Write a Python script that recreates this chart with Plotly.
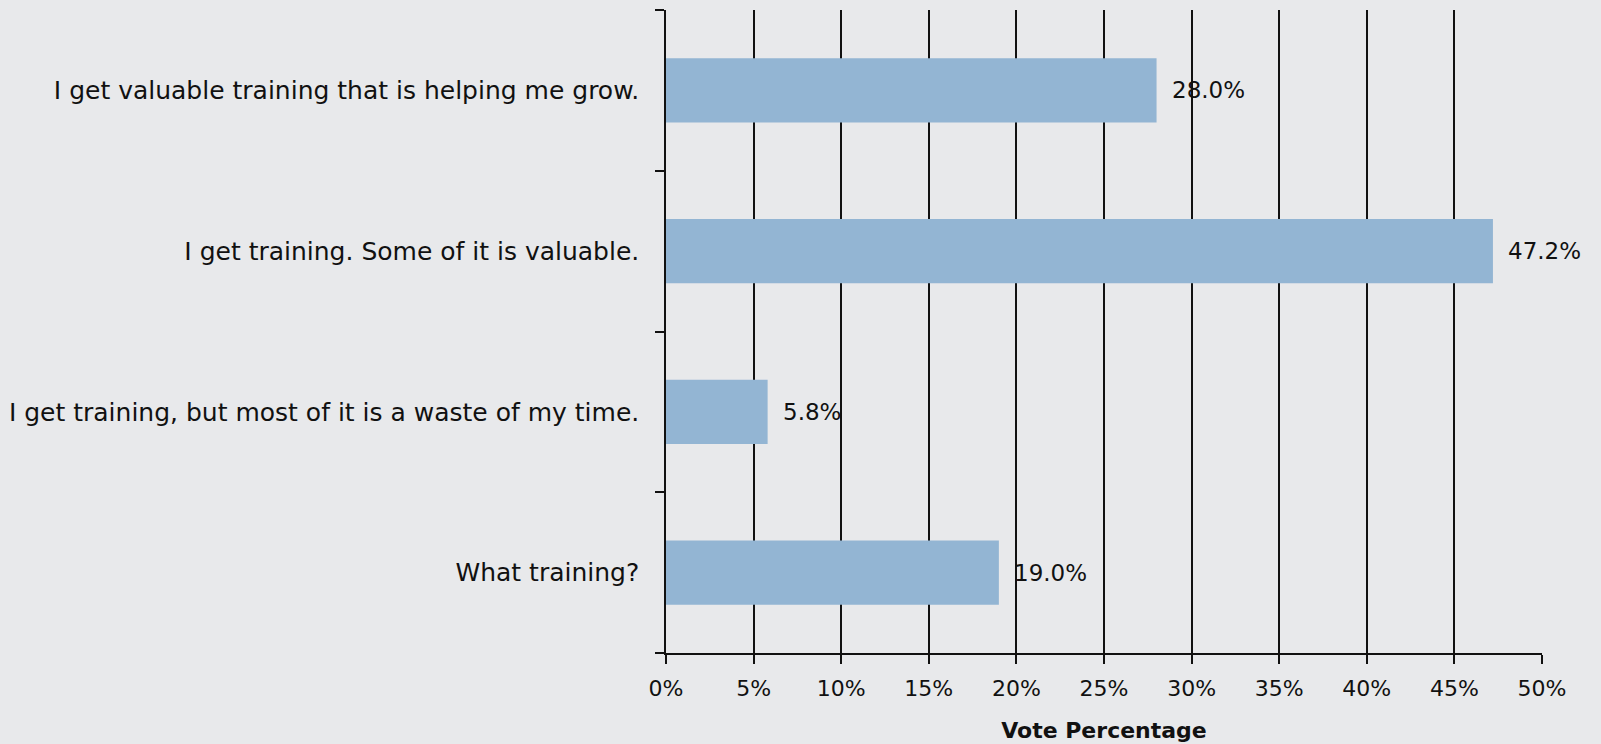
import plotly.graph_objects as go

categories = [
    "I get valuable training that is helping me grow.",
    "I get training. Some of it is valuable.",
    "I get training, but most of it is a waste of my time.",
    "What training?",
]
values = [28.0, 47.2, 5.8, 19.0]
x_ticks = [0, 5, 10, 15, 20, 25, 30, 35, 40, 45, 50]
x_tick_labels = [f"{t}%" for t in x_ticks]

FONT = "'DejaVu Sans', sans-serif"
TXT = "#111111"

fig = go.Figure()
fig.add_trace(go.Bar(
    x=values, y=categories, orientation="h",
    marker=dict(color="#93b5d3", line=dict(width=0)),
    width=0.4,
))
for c, v in zip(categories, values):
    fig.add_annotation(x=v, y=c, text=f"{v:.1f}%", showarrow=False,
                       xanchor="left", xshift=13,
                       font=dict(family=FONT, size=23, color=TXT))

fig.update_layout(
    width=1601, height=744,
    margin=dict(l=666, r=59, t=10, b=91),
    paper_bgcolor="#e8e9eb", plot_bgcolor="rgba(0,0,0,0)",
    showlegend=False,
    font=dict(family=FONT, size=22, color=TXT),
    bargap=0.6,
)
fig.update_xaxes(
    range=[0, 50], tickvals=x_ticks, ticktext=x_tick_labels,
    showgrid=True, gridcolor="#111111", gridwidth=1.5,
    showline=True, linecolor="#111111", linewidth=1.5,
    ticks="outside", ticklen=9, tickcolor="#111111", tickwidth=1.5,
    zeroline=False, ticklabelstandoff=6, automargin=False,
    tickfont=dict(family=FONT, size=22, color=TXT),
    title=dict(text="<b>Vote Percentage</b>", font=dict(family=FONT, size=22, color=TXT), standoff=22),
)
fig.update_yaxes(
    categoryorder="array", categoryarray=categories[::-1],
    showline=True, linecolor="#111111", linewidth=1.5,
    ticks="outside", ticklen=9, tickcolor="#111111", tickwidth=1.5,
    tickson="boundaries", showgrid=False, automargin=False,
    tickfont=dict(family=FONT, size=25, color=TXT),
    ticklabelstandoff=20,
)
fig.write_html(
    "out.html",
    config={"displayModeBar": False},
    post_script="document.body.style.margin='0';document.body.style.background='#e8e9eb';",
)
